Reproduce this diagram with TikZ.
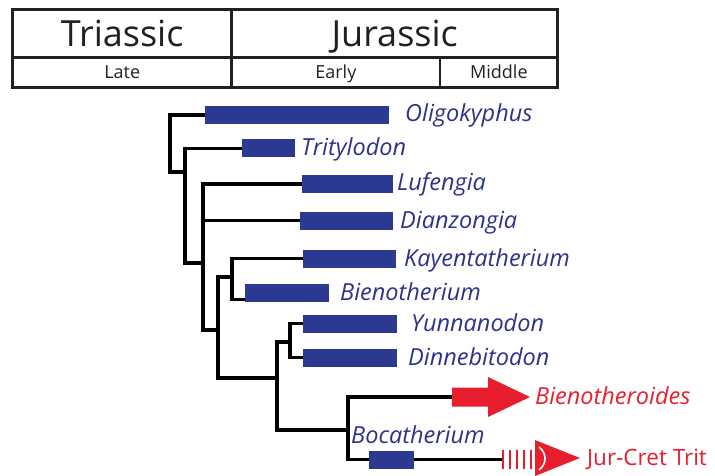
\documentclass[tikz,border=0pt]{standalone}
\usepackage{fontspec}
\setmainfont{Open Sans}
\usetikzlibrary{backgrounds}
\definecolor{barblue}{RGB}{43,57,144}
\definecolor{txtblue}{RGB}{46,49,140}
\definecolor{trendred}{RGB}{232,30,46}
\definecolor{rulegray}{RGB}{35,31,32}
\tikzset{cell/.style={draw=rulegray,line width=2.8pt,inner sep=0,text=rulegray,text depth=0pt},bigcell/.style={cell,minimum height=48pt,text height=25.7pt,font=\fontsize{36}{40}\selectfont},smallcell/.style={cell,minimum height=30pt,text height=12.9pt,font=\fontsize{18}{20}\selectfont},bar/.style={fill=barblue,inner sep=0,minimum height=18pt,anchor=west},taxon/.style={anchor=base west,inner sep=0,text=txtblue,font=\fontsize{23.5}{27}\selectfont\itshape},branch/.style={line width=3.2pt,line cap=rect}}

\begin{document}
\begin{tikzpicture}[x=1pt,y=-1pt]
\useasboundingbox (0,0) rectangle (715,476);
\node[bigcell, minimum width=219pt] (triassic) at (122.2,33.3) {Triassic};
\node[bigcell, minimum width=326pt] (jurassic) at (394.7,33.3) {Jurassic};
\node[smallcell, minimum width=219pt] (late) at (122.2,72.3) {Late};
\node[smallcell, minimum width=208.3pt] (early) at (335.85,72.3) {Early};
\node[smallcell, minimum width=117.7pt] (middle) at (498.85,72.3) {Middle};
\node[bar, minimum width=184pt] (oli) at (205,115) {};
\node[bar, minimum width=53pt] (tri) at (242,148.5) {};
\node[bar, minimum width=91pt] (luf) at (302,184) {};
\node[bar, minimum width=93pt] (dia) at (300,220.5) {};
\node[bar, minimum width=93pt] (kay) at (303,258.5) {};
\node[bar, minimum width=84pt] (bie) at (245,292.5) {};
\node[bar, minimum width=94pt] (yun) at (303,323.5) {};
\node[bar, minimum width=94pt] (din) at (303,357.5) {};
\node[bar, minimum width=45pt] (boc) at (369,459.5) {};
\node[taxon] (olil) at (405,122) {Oligokyphus};
\node[taxon] (tril) at (301,156) {Tritylodon};
\node[taxon] (lufl) at (397,190.5) {Lufengia};
\node[taxon] (dial) at (400,228) {Dianzongia};
\node[taxon] (kayl) at (404,266) {Kayentatherium};
\node[taxon] (biel) at (340,300) {Bienotherium};
\node[taxon] (yunl) at (411,331) {Yunnanodon};
\node[taxon] (dinl) at (408,365) {Dinnebitodon};
\node[taxon] (bocl) at (351,443) {Bocatherium};
\node[taxon, text=trendred] (bthl) at (535,404) {Bienotheroides};
\node[taxon, text=trendred, font=\fontsize{22.5}{26}\selectfont] (jctl) at (587,465) {Jur-Cret Trit};
\coordinate (r) at (170,172);
\coordinate (a) at (185,172);
\coordinate (b) at (203,263);
\coordinate (c) at (218,330);
\coordinate (d) at (232,277);
\coordinate (e) at (277,378);
\coordinate (f) at (290,342);
\coordinate (g) at (348,430);
\coordinate (bth) at (452,397);
\coordinate (jct) at (501,459.5);
\begin{scope}[on background layer]
\draw[branch] (r) |- (oli.west);
\draw[branch] (r) -- (a);
\draw[branch] (a) |- (tri.west);
\draw[branch] (a) |- (b);
\draw[branch] (b) |- (luf.west);
\draw[branch] (b) |- (dia.west);
\draw[branch] (b) |- (c);
\draw[branch] (c) |- (d);
\draw[branch] (c) |- (e);
\draw[branch] (d) |- (kay.west);
\draw[branch] (d) |- ([yshift=-7pt]bie.west);
\draw[branch] (e) |- (f);
\draw[branch] (e) |- (g);
\draw[branch] (f) |- (yun.west);
\draw[branch] (f) |- (din.west);
\draw[branch] (g) |- (bth);
\draw[branch] (g) |- (boc.west);
\draw[branch] (boc.east) -- (jct);
\end{scope}
\fill[trendred] (452,387.5) -- (488,387.5) -- (488,377) -- (530,397) -- (488,417) -- (488,406.5) -- (452,406.5) -- cycle;
\foreach \x in {503,510,517,524,531}
  \draw[trendred, line width=2.2pt] (\x,450) -- (\x,469);
\fill[trendred] (535,440) -- (580,458) -- (535,476) -- cycle;
\draw[white, line width=1.6pt] (539,447) .. controls (547,453) and (547,464) .. (539,470);
\end{tikzpicture}
\end{document}
